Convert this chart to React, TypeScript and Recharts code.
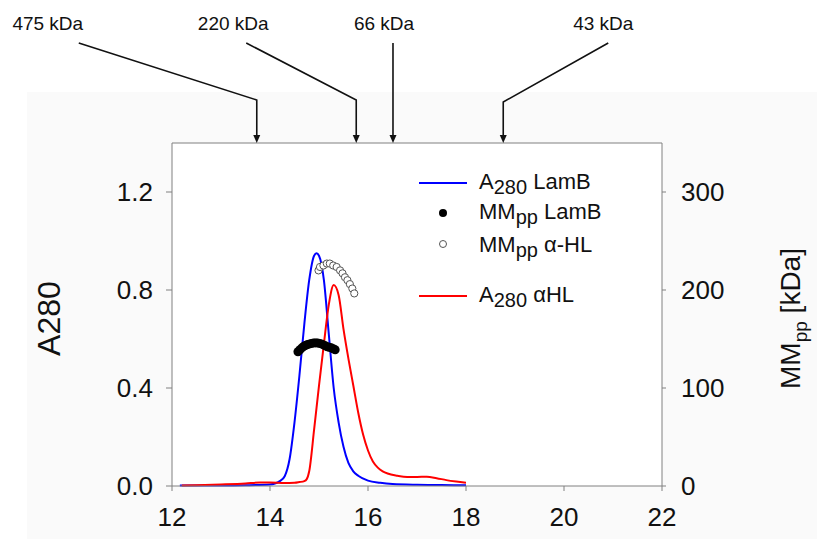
import React from 'react';
import {
  ComposedChart, Line, Scatter, XAxis, YAxis, CartesianGrid, ReferenceLine, ReferenceDot, Legend,
} from 'recharts';

const FONT = '"Liberation Sans", Arial, Helvetica, sans-serif';
const AXIS = '#808080';
const INK = '#111';

// elution volume (mL) -> A280, LamB
const lamBA280: [number, number][] = [
  [12.16, 0.002], [12.5, 0.002], [13.0, 0.002], [13.5, 0.003], [14.0, 0.006], [14.1, 0.01],
  [14.2, 0.02], [14.3, 0.04], [14.4, 0.11], [14.5, 0.26], [14.6, 0.45], [14.7, 0.66],
  [14.8, 0.84], [14.9, 0.94], [14.95, 0.95], [15.0, 0.94], [15.1, 0.84], [15.2, 0.62],
  [15.3, 0.4], [15.4, 0.26], [15.5, 0.16], [15.6, 0.094], [15.7, 0.06], [15.8, 0.042],
  [16.0, 0.022], [16.25, 0.013], [16.5, 0.008], [17.0, 0.005], [17.5, 0.004], [18.0, 0.003],
];

// elution volume (mL) -> A280, alpha-HL
const hlA280: [number, number][] = [
  [12.2, 0.002], [12.5, 0.003], [13.0, 0.006], [13.5, 0.01], [13.8, 0.014], [14.0, 0.014],
  [14.3, 0.012], [14.5, 0.013], [14.6, 0.016], [14.7, 0.02], [14.75, 0.028], [14.8, 0.06],
  [14.9, 0.23], [15.0, 0.41], [15.1, 0.58], [15.2, 0.74], [15.3, 0.82], [15.4, 0.78],
  [15.5, 0.64], [15.6, 0.52], [15.7, 0.41], [15.8, 0.3], [15.9, 0.21], [16.0, 0.145],
  [16.1, 0.1], [16.2, 0.075], [16.3, 0.06], [16.4, 0.051], [16.6, 0.042], [16.8, 0.037],
  [17.0, 0.037], [17.2, 0.038], [17.4, 0.032], [17.6, 0.024], [17.8, 0.018], [18.0, 0.013],
];

// elution volume (mL) -> MMpp (kDa)
const lamBMM: [number, number][] = [
  [14.57, 137], [14.61, 139], [14.65, 141], [14.69, 142.5], [14.73, 143.5], [14.77, 144.5],
  [14.81, 145], [14.85, 145.5], [14.89, 146], [14.93, 146], [14.97, 146], [15.01, 145.5],
  [15.05, 145], [15.09, 144], [15.13, 143], [15.17, 142], [15.21, 141.5], [15.25, 141],
  [15.29, 140], [15.33, 139],
];

const hlMM: [number, number][] = [
  [14.99, 220], [15.02, 223.5], [15.09, 225], [15.16, 227], [15.22, 227], [15.29, 225],
  [15.36, 223.5], [15.43, 220], [15.48, 217], [15.53, 213], [15.58, 210], [15.63, 206],
  [15.68, 201.5], [15.72, 196.5],
];

const xTicks = [12, 14, 16, 18, 20, 22];
const leftTicks = [0, 0.4, 0.8, 1.2];
const rightTicks = [0, 100, 200, 300];

// size standards
const markerLabels = ['475 kDa', '220 kDa', '66 kDa', '43 kDa'];
const markerElution = [13.73, 15.76, 16.51, 18.76];
// arrow tail / label offsets from the arrow tip (px)
const markerLayout = [
  { tailDx: -178, bendDy: -43, textDx: -209 },
  { tailDx: -110, bendDy: -43, textDx: -123 },
  { tailDx: 0, bendDy: -43, textDx: -9 },
  { tailDx: 105, bendDy: -41, textDx: 100 },
];

const toPts = (arr: [number, number][]) => arr.map(([x, y]) => ({ x, y }));

function ArrowMark({ cx, cy, i }: { cx: number; cy: number; i: number }) {
  const l = markerLayout[i];
  const tailY = cy - 100;
  const bendY = cy + l.bendDy;
  const pts = l.tailDx === 0
    ? `${cx},${tailY} ${cx},${cy - 7}`
    : `${cx + l.tailDx},${tailY} ${cx},${bendY} ${cx},${cy - 7}`;
  return (
    <g>
      <polyline points={pts} fill="none" stroke={INK} strokeWidth={1.6} />
      <path d={`M${cx - 3.5},${cy - 8} L${cx + 3.5},${cy - 8} L${cx},${cy} Z`} fill={INK} />
      <text x={cx + l.textDx} y={cy - 113} textAnchor="middle" fontSize={19} fill={INK} fontFamily={FONT}>
        {markerLabels[i]}
      </text>
    </g>
  );
}

function Sub({ main, sub, rest }: { main: string; sub: string; rest: string }) {
  return (
    <>
      <tspan>{main}</tspan>
      <tspan dy={5} fontSize={20}>{sub}</tspan>
      <tspan dy={-5}>{rest}</tspan>
    </>
  );
}

function LegendBox() {
  return (
    <svg width={230} height={150} style={{ overflow: 'visible' }}>
      <g fontFamily={FONT} fontSize={22} fill={INK}>
        <line x1={9} x2={57} y1={18} y2={18} stroke="#0000ff" strokeWidth={2} />
        <text x={69} y={24}><Sub main="A" sub="280" rest=" LamB" /></text>
        <circle cx={33} cy={48} r={4} fill="#000" />
        <text x={69} y={54}><Sub main="MM" sub="pp" rest=" LamB" /></text>
        <circle cx={33} cy={79} r={3.5} fill="#fff" stroke="#555" />
        <text x={69} y={87}><Sub main="MM" sub="pp" rest=" α-HL" /></text>
        <line x1={9} x2={57} y1={131} y2={131} stroke="#ff0000" strokeWidth={2} />
        <text x={69} y={137}><Sub main="A" sub="280" rest=" αHL" /></text>
      </g>
    </svg>
  );
}

export default function App() {
  return (
    <div style={{ position: 'absolute', left: 0, top: 0, width: 817, height: 539, background: '#fff', fontFamily: FONT }}>
      <div style={{ position: 'absolute', left: 27, top: 92, right: 0, bottom: 0, background: '#fafafa' }} />
      <div style={{ position: 'absolute', left: 0, top: 0 }}>
        <ComposedChart width={817} height={539} margin={{ top: 143, right: 0, bottom: 0, left: 0 }}>
          <CartesianGrid yAxisId="left" horizontal={false} vertical={false} fill="#fff" fillOpacity={1} />
          <XAxis
            dataKey="x" type="number" domain={[12, 22]} ticks={xTicks} height={53}
            tickSize={5} tickMargin={17} stroke={AXIS}
            tick={{ fontSize: 26, fill: INK, fontFamily: FONT }}
          />
          <YAxis
            yAxisId="left" domain={[0, 1.4]} ticks={leftTicks} width={172}
            tickSize={6} tickMargin={13} stroke={AXIS}
            tickFormatter={(v: number) => v.toFixed(1)}
            tick={{ fontSize: 26, fill: INK, fontFamily: FONT }}
            label={({ viewBox }: any) => (
              <text
                x={viewBox.x + 60} y={viewBox.y + viewBox.height / 2 + 4}
                transform={`rotate(-90 ${viewBox.x + 60} ${viewBox.y + viewBox.height / 2 + 4})`}
                textAnchor="middle" fontSize={32} fill={INK} fontFamily={FONT}
              >
                A280
              </text>
            )}
          />
          <YAxis
            yAxisId="right" orientation="right" domain={[0, 350]} ticks={rightTicks} width={155}
            tickSize={4} tickMargin={15} stroke={AXIS}
            tick={{ fontSize: 26, fill: INK, fontFamily: FONT }}
            label={({ viewBox }: any) => {
              const cx = viewBox.x + 138;
              const cy = viewBox.y + viewBox.height / 2 + 4;
              return (
                <text x={cx} y={cy} transform={`rotate(-90 ${cx} ${cy})`} textAnchor="middle"
                  fontSize={28} fill={INK} fontFamily={FONT}>
                  <tspan>MM</tspan>
                  <tspan dy={7} fontSize={19}>pp</tspan>
                  <tspan dy={-7}> [kDa]</tspan>
                </text>
              );
            }}
          />
          <ReferenceLine yAxisId="left" y={1.4} stroke={AXIS} ifOverflow="visible" />
          <Line yAxisId="left" data={toPts(lamBA280)} dataKey="y" type="monotone" stroke="#0000ff"
            strokeWidth={2} dot={false} isAnimationActive={false} />
          <Line yAxisId="left" data={toPts(hlA280)} dataKey="y" type="monotone" stroke="#ff0000"
            strokeWidth={2} dot={false} isAnimationActive={false} />
          <Scatter yAxisId="right" data={toPts(lamBMM)} dataKey="y" isAnimationActive={false}
            shape={(p: any) => <circle cx={p.cx} cy={p.cy} r={4.5} fill="#000" />} />
          <Scatter yAxisId="right" data={toPts(hlMM)} dataKey="y" isAnimationActive={false}
            shape={(p: any) => <circle cx={p.cx} cy={p.cy} r={3.6} fill="#fff" stroke="#555" strokeWidth={1} />} />
          {markerElution.map((x, i) => (
            <ReferenceDot key={markerLabels[i]} yAxisId="left" x={x} y={1.4} r={0} ifOverflow="visible"
              shape={(p: any) => <ArrowMark cx={p.cx} cy={p.cy} i={i} />} />
          ))}
          <Legend
            layout="horizontal" verticalAlign="middle" align="center"
            wrapperStyle={{ left: 410, top: 165, width: 230, height: 150 }}
            content={() => <LegendBox />}
          />
        </ComposedChart>
      </div>
    </div>
  );
}
